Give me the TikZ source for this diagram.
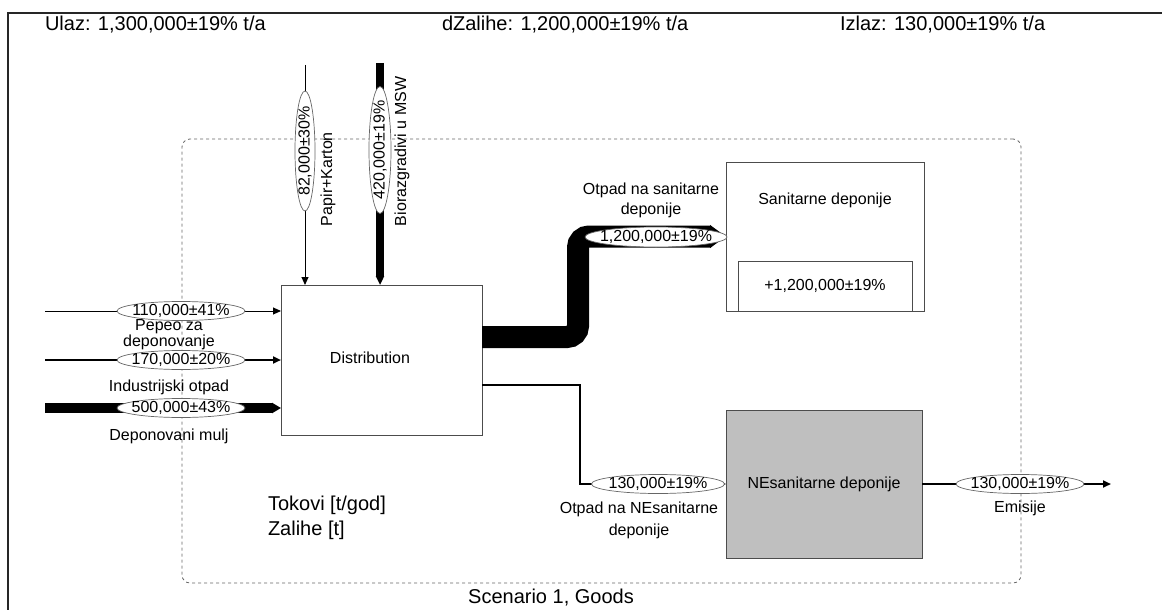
\documentclass[tikz,border=0pt]{standalone}
\usepackage{fontspec}
\setmainfont{Liberation Sans}
\usetikzlibrary{shapes.geometric,arrows.meta}
\begin{document}
\begin{tikzpicture}[x=1pt,y=-1pt,
  every node/.style={font=\fontsize{16}{18}\selectfont, inner sep=0pt, outer sep=0pt},
  procbox/.style={draw=black!70, line width=0.8pt},
  val/.style={ellipse, draw=black!60, line width=0.7pt, fill=white, inner sep=0pt},
  thinflow/.style={draw=black, line width=1pt, -{Triangle[length=8pt,width=7pt]}},
  midflow/.style={draw=black, line width=2.5pt, -{Triangle[length=8pt,width=7pt]}},
  lbl/.style={align=center},
  big/.style={font=\fontsize{20}{24}\selectfont},
]
\useasboundingbox (0,0) rectangle (1162,610);
% outer frame
\draw[line width=1.5pt, black!85] (8,610) -- (8,13) -- (1162,13);
% system boundary
\node[draw=black!60, dashed, line width=0.8pt, rounded corners=8pt, minimum width=839pt, minimum height=444pt] (sys) at (601.5,361) {};
% header texts
\node[big, anchor=west] (ulaz) at (45,25) {Ulaz: 1,300,000±19\% t/a};
\node[big, anchor=west] (dzal) at (442,25) {dZalihe: 1,200,000±19\% t/a};
\node[big, anchor=west] (izlaz) at (840,25) {Izlaz: 130,000±19\% t/a};
% processes
\node[procbox, fill=white, minimum width=201pt, minimum height=150pt] (dist) at (381.5,360) {};
\node (distlbl) at (370,358) {Distribution};
\node[procbox, fill=white, minimum width=198pt, minimum height=149pt] (san) at (825,236.5) {};
\node (sanlbl) at (825,200) {Sanitarne deponije};
\node[procbox, minimum width=174pt, minimum height=50pt] (sanst) at (825,286) {+1,200,000±19\%};
\node[procbox, fill=black!25, minimum width=196pt, minimum height=148pt] (ne) at (824,484) {NEsanitarne deponije};
% input coordinates
\coordinate (in1) at (45,311);
\coordinate (in2) at (45,360);
\coordinate (in3) at (45,408);
\coordinate (t1) at (305,65);
\coordinate (t2) at (380,63);
% left inputs
\draw[thinflow] (in1) -- (in1 -| dist.west);
\draw[midflow] (in2) -- (in2 -| dist.west);
\draw[draw=black, line width=10pt, -{Triangle[length=9pt,width=10pt]}] (in3) -- (in3 -| dist.west);
\node[val, minimum width=128pt, minimum height=19pt] (v1) at (181,311) {};
\node at (v1) {110,000±41\%};
\node[val, minimum width=128pt, minimum height=19pt] (v2) at (181,360) {};
\node at (v2) {170,000±20\%};
\node[val, minimum width=128pt, minimum height=19pt] (v3) at (181,408) {};
\node at (v3) {500,000±43\%};
\node[lbl, font=\fontsize{16}{16}\selectfont] (l1) at (169,335) {Pepeo za\\deponovanje};
\node (l2) at (169,387) {Industrijski otpad};
\node (l3) at (169,436) {Deponovani mulj};
% top inputs
\draw[thinflow] (t1) -- (t1 |- dist.north);
\draw[draw=black, line width=8pt, -{Triangle[length=9pt,width=8pt]}] (t2) -- (t2 |- dist.north);
\node[val, minimum width=20pt, minimum height=120pt] (v4) at (305,151) {};
\node[rotate=90] at (v4) {82,000±30\%};
\node[val, minimum width=22pt, minimum height=127pt] (v5) at (380,150) {};
\node[rotate=90] at (v5) {420,000±19\%};
\node[rotate=90, anchor=west] (l4) at (328,226) {Papir+Karton};
\node[rotate=90, anchor=west] (l5) at (402,226) {Biorazgradivi u MSW};
% to sanitary landfills
\coordinate (s0) at (482,337);
\coordinate (s1) at (578,337);
\coordinate (s2) at (578,236.5);
\draw[draw=black, line width=22pt, rounded corners=11pt, -{Triangle[length=16pt,width=22pt]}] (s0) -- (s1) -- (s2) -- (san.west);
\node[val, minimum width=142pt, minimum height=20pt] (v6) at (656,237) {};
\node at (v6) {1,200,000±19\%};
\node[lbl, font=\fontsize{16}{20}\selectfont] (l6) at (651,200) {Otpad na sanitarne\\deponije};
% to non-sanitary landfills
\coordinate (n0) at (482,385);
\coordinate (n1) at (580,385);
\coordinate (n2) at (580,484);
\draw[midflow] (n0) -- (n1) -- (n2) -- (ne.west);
\node[val, minimum width=133pt, minimum height=19pt] (v7) at (658,484) {};
\node at (v7) {130,000±19\%};
\node[lbl, font=\fontsize{16}{22}\selectfont] (l7) at (639,520) {Otpad na NEsanitarne\\deponije};
% emissions
\coordinate (eout) at (1111,484);
\draw[midflow] (ne.east) -- (eout);
\node[val, minimum width=128pt, minimum height=19pt] (v8) at (1020,484) {};
\node at (v8) {130,000±19\%};
\node (l8) at (1020,508) {Emisije};
% legend
\node[big, anchor=west] (tok) at (268,505) {Tokovi [t/god]};
\node[big, anchor=west] (zal) at (268,530) {Zalihe [t]};
\node[big] (scen) at (551,598) {Scenario 1, Goods};
\end{tikzpicture}
\end{document}
